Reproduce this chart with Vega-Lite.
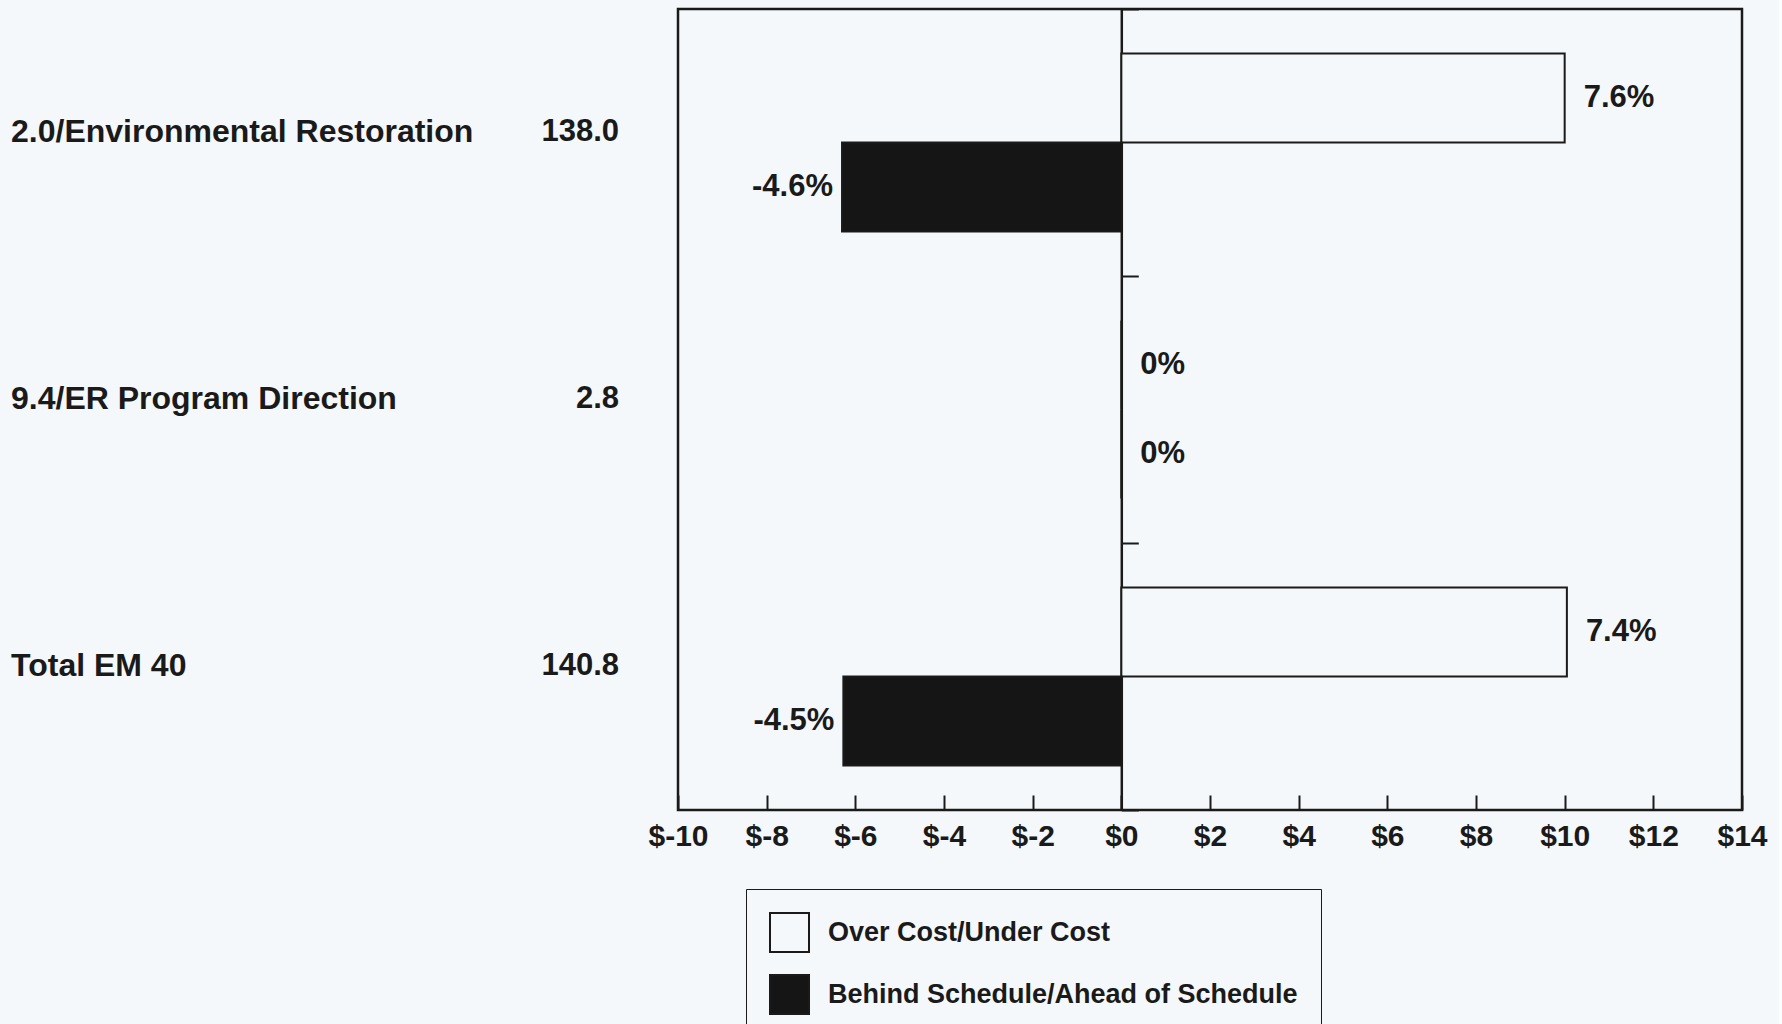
{
  "$schema": "https://vega.github.io/schema/vega-lite/v6.json",
  "background": "#f4f8fa",
  "padding": {"left": 11, "top": 6, "right": 10, "bottom": 0},
  "bounds": "flush",
  "spacing": 59,
  "data": {
    "values": [
      {"category": "2.0/Environmental Restoration", "budget": 138.0, "series": "Over Cost/Under Cost", "value": 10.0, "pct": "7.6%"},
      {"category": "2.0/Environmental Restoration", "budget": 138.0, "series": "Behind Schedule/Ahead of Schedule", "value": -6.3, "pct": "-4.6%"},
      {"category": "9.4/ER Program Direction", "budget": 2.8, "series": "Over Cost/Under Cost", "value": 0, "pct": "0%"},
      {"category": "9.4/ER Program Direction", "budget": 2.8, "series": "Behind Schedule/Ahead of Schedule", "value": 0, "pct": "0%"},
      {"category": "Total EM 40", "budget": 140.8, "series": "Over Cost/Under Cost", "value": 10.05, "pct": "7.4%"},
      {"category": "Total EM 40", "budget": 140.8, "series": "Behind Schedule/Ahead of Schedule", "value": -6.27, "pct": "-4.5%"}
    ]
  },
  "hconcat": [
    {
      "width": 608,
      "height": 801,
      "view": {"stroke": null},
      "transform": [{"filter": "datum.series == 'Over Cost/Under Cost'"}],
      "encoding": {
        "y": {"field": "category", "type": "nominal", "sort": null, "scale": {"paddingInner": 0, "paddingOuter": 0}, "axis": null}
      },
      "layer": [
        {
          "mark": {"type": "text", "align": "left", "baseline": "middle", "dy": -11, "fontSize": 32, "fontWeight": "bold", "fill": "#1a1a1a"},
          "encoding": {
            "x": {"datum": 0, "type": "quantitative", "scale": {"domain": [0, 1], "nice": false, "zero": false}, "axis": null},
            "text": {"field": "category"}
          }
        },
        {
          "mark": {"type": "text", "align": "right", "baseline": "middle", "dy": -11, "fontSize": 31, "fontWeight": "bold", "fill": "#1a1a1a"},
          "encoding": {
            "x": {"datum": 1, "type": "quantitative", "axis": null},
            "text": {"field": "budget", "type": "quantitative", "format": ".1f"}
          }
        }
      ]
    },
    {
      "width": 1064,
      "height": 801,
      "view": {"stroke": "#1a1a1a", "strokeWidth": 2.5},
      "encoding": {
        "y": {
          "field": "category", "type": "nominal", "sort": null,
          "scale": {"paddingInner": 0, "paddingOuter": 0},
          "axis": {"orient": "left", "offset": -443.3, "labels": false, "title": null, "grid": false, "domain": true, "domainColor": "#1a1a1a", "domainWidth": 2.5, "tickBand": "extent", "tickSize": -17, "tickColor": "#1a1a1a", "tickWidth": 2}
        },
        "yOffset": {
          "field": "series", "type": "nominal",
          "scale": {"domain": ["Over Cost/Under Cost", "Behind Schedule/Ahead of Schedule"], "paddingInner": 0, "paddingOuter": 0.5}
        },
        "x": {
          "field": "value", "type": "quantitative",
          "scale": {"domain": [-10, 14], "nice": false, "zero": false},
          "axis": {
            "values": [-10, -8, -6, -4, -2, 0, 2, 4, 6, 8, 10, 12, 14],
            "labelExpr": "'$' + datum.value",
            "title": null, "grid": false, "domain": false,
            "tickSize": -15, "tickWidth": 2, "tickColor": "#1a1a1a",
            "labelFontSize": 30, "labelFontWeight": "bold", "labelColor": "#1a1a1a",
            "labelPadding": 26, "labelFlush": false, "labelOverlap": false
          }
        }
      },
      "layer": [
        {
          "mark": {"type": "bar", "stroke": "#1a1a1a", "strokeWidth": 2},
          "encoding": {
            "fill": {
              "field": "series", "type": "nominal",
              "scale": {"domain": ["Over Cost/Under Cost", "Behind Schedule/Ahead of Schedule"], "range": ["#f4f8fa", "#151515"]},
              "legend": {
                "orient": "none", "legendX": 735, "legendY": 880, "direction": "vertical", "title": null,
                "strokeColor": "#1a1a1a", "fillColor": "#f4f8fa", "padding": 23,
                "symbolType": "square", "symbolSize": 1521, "symbolStrokeColor": "#1a1a1a", "symbolStrokeWidth": 2,
                "labelFontSize": 27, "labelFontWeight": "bold", "labelColor": "#1a1a1a", "labelOffset": 18, "rowPadding": 15, "labelLimit": 0
              }
            }
          }
        },
        {
          "transform": [{"filter": "datum.value >= 0"}],
          "mark": {"type": "text", "align": "left", "baseline": "middle", "dx": 19, "fontSize": 31, "fontWeight": "bold", "fill": "#1a1a1a"},
          "encoding": {"text": {"field": "pct"}}
        },
        {
          "transform": [{"filter": "datum.value < 0"}],
          "mark": {"type": "text", "align": "right", "baseline": "middle", "dx": -9, "fontSize": 31, "fontWeight": "bold", "fill": "#1a1a1a"},
          "encoding": {"text": {"field": "pct"}}
        }
      ]
    }
  ],
  "config": {
    "font": "Liberation Sans"
  }
}
